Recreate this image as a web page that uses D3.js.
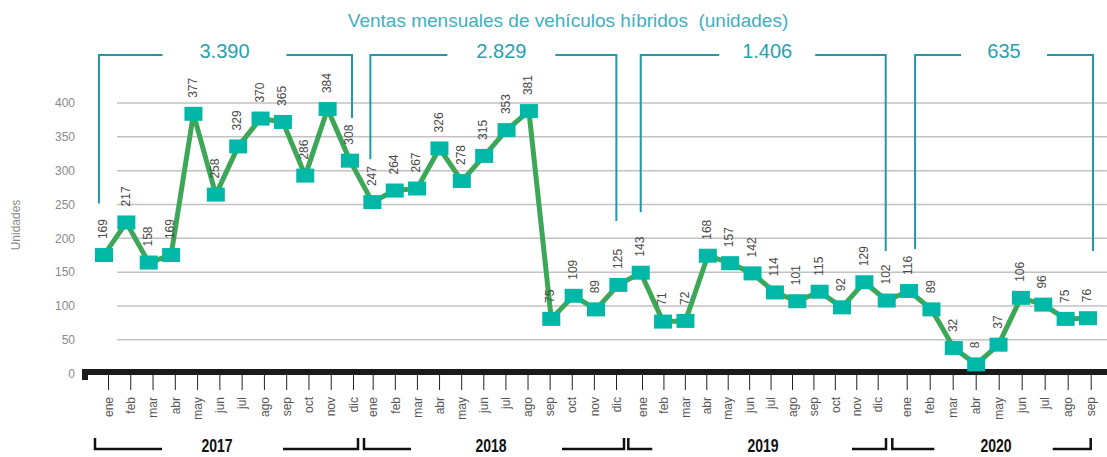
<!DOCTYPE html>
<html>
<head>
<meta charset="utf-8">
<script src="https://cdn.jsdelivr.net/npm/d3@7"></script>
<style>
  body { margin: 0; background: #fff; }
  svg text { font-family: "Liberation Sans", Arial, sans-serif; }
</style>
</head>
<body>
<script>
// datos: ventas mensuales de vehiculos hibridos (unidades)
const months = ["ene", "feb", "mar", "abr", "may", "jun", "jul", "ago", "sep", "oct", "nov", "dic"];
const years = ["2017", "2018", "2019", "2020"];
const ventas2017 = [169, 217, 158, 169, 377, 258, 329, 370, 365, 286, 384, 308];
const ventas2018 = [247, 264, 267, 326, 278, 315, 353, 381, 75, 109, 89, 125];
const ventas2019 = [143, 71, 72, 168, 157, 142, 114, 101, 115, 92, 129, 102];
const ventas2020 = [116, 89, 32, 8, 37, 106, 96, 75, 76];
const yTicks = [0, 50, 100, 150, 200, 250, 300, 350, 400];

// layout of the annotations (pixels), not data
const tickSpans = [[108, 353], [372.7, 616], [642, 877.7], [906.7, 1090.7]];
const yearBrackets = [
  { x0: 95, x1: 358, armL: 67, armR: 75, labelX: 217 },
  { x0: 364, x1: 624, armL: 47, armR: 62, labelX: 491 },
  { x0: 628.3, x1: 886, armL: 24, armR: 34, labelX: 763 },
  { x0: 892.3, x1: 1090.7, armL: 42, armR: 38, labelX: 996 }
];
// top brackets: leg x nudges, leg reach (in units), text centre nudge, half gap
const topBrackets = [
  { dx0: -5, dx1: 2, reach0: 245, reach1: 371, dc: -1, half: 62 },
  { dx0: -2, dx1: -2, reach0: 310, reach1: 219, dc: 8, half: 54 },
  { dx0: 0, dx1: -1, reach0: 232, reach1: 175, dc: 4, half: 48 },
  { dx0: 6, dx1: 5, reach0: 178, reach1: 175, dc: 0, half: 43 }
];

const series = [ventas2017, ventas2018, ventas2019, ventas2020];
let data = [];
series.forEach(function(vals, yi) {
  vals.forEach(function(v, mi) {
    data.push({ year: years[yi], month: months[mi], value: v });
  });
});
data.forEach(function(d, i) { d.i = i; });

const fmt = d3.formatLocale({ decimal: ",", thousands: ".", grouping: [3], currency: ["", "€"] }).format(",d");

const width = 1107, height = 457;
const teal = "#1f99ab";

let viz = d3.select("body")
  .append("svg")
    .attr("width", width)
    .attr("height", height)
;

const x = d3.scalePoint().domain(d3.range(data.length)).range([104, 1088]);
const y = d3.scaleLinear().domain([0, 400]).range([369.8, 98.2]);
const yGrid = d3.scaleLinear().domain([0, 400]).range([373.6, 103]);

// title
viz.append("text")
  .attr("x", 568)
  .attr("y", 27)
  .attr("text-anchor", "middle")
  .style("white-space", "pre")
  .attr("font-size", "19px")
  .attr("fill", "#3fafc1")
  .text("Ventas mensuales de vehículos híbridos  (unidades)");

// gridlines
viz.selectAll("line.grid").data(yTicks.filter(function(v) { return v > 0; }))
  .enter()
    .append("line")
    .attr("class", "grid")
    .attr("x1", 117)
    .attr("x2", width)
    .attr("y1", function(v) { return yGrid(v); })
    .attr("y2", function(v) { return yGrid(v); })
    .attr("stroke", "#c2c2c2")
    .attr("stroke-width", 1.5)
;

viz.selectAll("text.ytick").data(yTicks)
  .enter()
    .append("text")
    .attr("class", "ytick")
    .attr("x", 75)
    .attr("y", function(v) { return yGrid(v); })
    .attr("dy", "0.35em")
    .attr("text-anchor", "end")
    .attr("font-size", "12px")
    .attr("fill", "#8a8a8a")
    .text(function(v) { return v; })
;

viz.append("text")
  .attr("transform", "translate(16,225) rotate(-90)")
  .attr("dy", "0.35em")
  .attr("text-anchor", "middle")
  .attr("font-size", "12px")
  .attr("fill", "#8a8a8a")
  .text("Unidades");

// black base bar
viz.append("rect").attr("x", 82).attr("y", 369).attr("width", width - 82).attr("height", 6).attr("fill", "#1b1b1b");
viz.append("rect").attr("x", 82).attr("y", 369).attr("width", 6).attr("height", 11).attr("fill", "#1b1b1b");

// month axes, one per year
years.forEach(function(yr, yi) {
  const n = series[yi].length;
  const xm = d3.scalePoint().domain(months.slice(0, n)).range(tickSpans[yi]);
  const g = viz.append("g")
    .attr("transform", "translate(0,375)")
    .call(d3.axisBottom(xm).tickSize(15).tickSizeOuter(0));
  g.select(".domain").remove();
  g.selectAll(".tick line").attr("stroke", "#222");
  g.selectAll(".tick text")
    .attr("transform", "rotate(-90)")
    .attr("x", -22)
    .attr("y", 0)
    .attr("dy", "0.35em")
    .attr("text-anchor", "end")
    .attr("font-family", "Liberation Sans, Arial, sans-serif")
    .attr("font-size", "12px")
    .attr("fill", "#555");
});

// year brackets
viz.selectAll("path.yb").data(yearBrackets)
  .enter()
    .append("path")
    .attr("class", "yb")
    .attr("d", function(b) {
      return "M" + b.x0 + ",438V449H" + (b.x0 + b.armL) +
             "M" + (b.x1 - b.armR) + ",449H" + b.x1 + "V438";
    })
    .attr("fill", "none")
    .attr("stroke", "#111")
    .attr("stroke-width", 2.5)
;

// condensed bold year labels (narrow font not installed, so squeeze it)
viz.selectAll("text.year").data(yearBrackets)
  .enter()
    .append("text")
    .attr("class", "year")
    .attr("transform", function(b) { return "translate(" + b.labelX + ",452) scale(0.78,1)"; })
    .attr("text-anchor", "middle")
    .attr("font-weight", "bold")
    .attr("font-size", "18px")
    .attr("fill", "#111")
    .text(function(b, i) { return years[i]; })
;

// top total brackets
let start = 0;
topBrackets.forEach(function(b, yi) {
  const vals = series[yi];
  const i0 = start, i1 = start + vals.length - 1;
  start += vals.length;
  const xa = x(i0) + b.dx0, xb = x(i1) + b.dx1;
  const cx = (xa + xb) / 2 + b.dc;
  viz.append("path")
    .attr("d", "M" + xa + "," + y(b.reach0) + "V55H" + (cx - b.half) +
               "M" + (cx + b.half) + ",55H" + xb + "V" + y(b.reach1))
    .attr("fill", "none")
    .attr("stroke", teal)
    .attr("stroke-width", 2);
  viz.append("text")
    .attr("x", cx)
    .attr("y", 58)
    .attr("text-anchor", "middle")
    .attr("font-size", "20px")
    .attr("fill", "#2a9fb2")
    .text(fmt(d3.sum(vals)));
});

// line
const line = d3.line()
  .x(function(d) { return x(d.i); })
  .y(function(d) { return y(d.value); });

viz.append("path")
  .datum(data)
  .attr("d", line)
  .attr("fill", "none")
  .attr("stroke", "#3ca757")
  .attr("stroke-width", 5)
  .attr("stroke-linejoin", "round");

// markers
viz.selectAll("rect.mk").data(data)
  .enter()
    .append("rect")
    .attr("class", "mk")
    .attr("x", function(d) { return x(d.i) - 9; })
    .attr("y", function(d) { return y(d.value) - 7; })
    .attr("width", 18)
    .attr("height", 14)
    .attr("fill", "#00b8a7")
;

// value labels
viz.selectAll("text.val").data(data)
  .enter()
    .append("text")
    .attr("class", "val")
    .attr("transform", function(d) {
      return "translate(" + (x(d.i) - 1) + "," + (y(d.value) - 16) + ") rotate(-90)";
    })
    .attr("dy", "0.35em")
    .attr("font-size", "12px")
    .attr("fill", "#4a4a4a")
    .text(function(d) { return d.value; })
;
</script>
</body>
</html>
